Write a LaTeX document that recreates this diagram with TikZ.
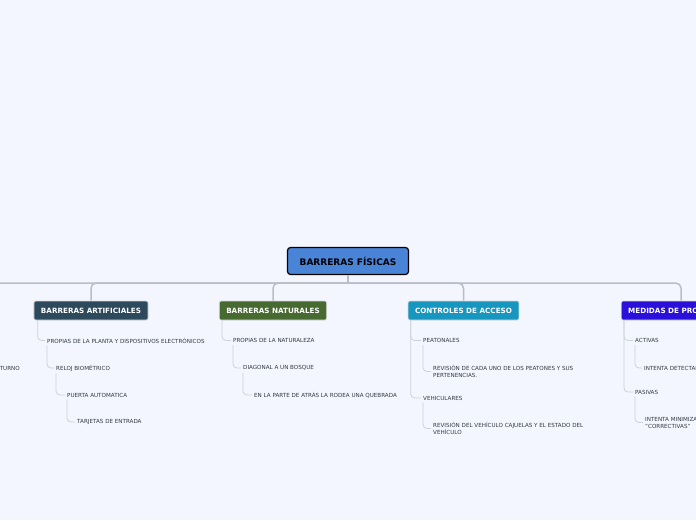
\documentclass[tikz,border=0pt]{standalone}
\usepackage{fontspec}
\setmainfont{DejaVu Sans}
\usetikzlibrary{positioning}

\definecolor{paperbg}{HTML}{F3F6FE}
\definecolor{rootblue}{HTML}{4A84D6}
\definecolor{artslate}{HTML}{2D495C}
\definecolor{natgreen}{HTML}{466A2F}
\definecolor{acceteal}{HTML}{1797BF}
\definecolor{medviolet}{HTML}{2A10D9}
\definecolor{trunkgray}{HTML}{B9BDC6}
\definecolor{twiggray}{HTML}{CDD1D8}
\definecolor{leaftext}{HTML}{333844}

\begin{document}
\begin{tikzpicture}[x=1pt, y=-1pt,
    rootbox/.style={draw=black, line width=1.2pt, fill=rootblue, rounded corners=3pt,
        minimum width=121pt, minimum height=27pt, font=\bfseries\fontsize{9}{11}\selectfont},
    topic/.style={draw=black!15, line width=0.6pt, rounded corners=2pt, text=white,
        minimum height=19pt, inner xsep=7pt, font=\bfseries\fontsize{7.2}{9}\selectfont},
    leaf/.style={anchor=west, inner sep=2pt, align=left, text=leaftext,
        font=\fontsize{5.6}{7}\selectfont},
    trunk/.style={draw=trunkgray, line width=1.5pt, rounded corners=5pt},
    twig/.style={draw=twiggray, line width=0.8pt, rounded corners=4pt}]
    \clip (0,0) rectangle (696,520);
    \fill[paperbg] (0,0) rectangle (696,520);

    % Central topic
    \node[rootbox] (root) at (348,261) {BARRERAS FÍSICAS};
    \draw[trunk] (root.south) -- ++(0,8) coordinate (hub);

    % Main branches
    \node[topic, fill=artslate] (art) at (91,310.5) {BARRERAS ARTIFICIALES};
    \node[topic, fill=natgreen] (nat) at (273,310.5) {BARRERAS NATURALES};
    \node[topic, fill=acceteal] (acc) at (463.5,310.5) {CONTROLES DE ACCESO};
    \node[topic, fill=medviolet] (med) at (681,310.5) {MEDIDAS DE PROTECCIÓN};
    \coordinate (farleft) at (-90,301);

    \draw[trunk] (hub) -| (farleft);
    \draw[trunk] (hub) -| (art.north);
    \draw[trunk] (hub) -| (nat.north);
    \draw[trunk] (hub) -| (acc.north);
    \draw[trunk] (hub) -| (med.north);

    % Left-hand remainder
    \node[leaf, anchor=east] (turno) at (22,368) {TURNO};

    % Barreras artificiales
    \node[leaf] (a1) at (45,340.5) {PROPIAS DE LA PLANTA Y DISPOSITIVOS ELECTRÓNICOS};
    \node[leaf] (a2) at (54,368) {RELOJ BIOMÉTRICO};
    \node[leaf] (a3) at (65,395) {PUERTA AUTOMATICA};
    \node[leaf] (a4) at (75,422) {TARJETAS DE ENTRADA};
    \draw[twig] ([xshift=4pt]art.south west) |- (a1.west);
    \draw[twig] ([xshift=2pt]a1.south west) |- (a2.west);
    \draw[twig] ([xshift=2pt]a2.south west) |- (a3.west);
    \draw[twig] ([xshift=2pt]a3.south west) |- (a4.west);

    % Barreras naturales
    \node[leaf] (n1) at (231,340.5) {PROPIAS DE LA NATURALEZA};
    \node[leaf] (n2) at (241,368) {DIAGONAL A UN BOSQUE};
    \node[leaf] (n3) at (252,395) {EN LA PARTE DE ATRÁS LA RODEA UNA QUEBRADA};
    \draw[twig] ([xshift=3pt]nat.south west) |- (n1.west);
    \draw[twig] ([xshift=2pt]n1.south west) |- (n2.west);
    \draw[twig] ([xshift=2pt]n2.south west) |- (n3.west);

    % Controles de acceso
    \node[leaf] (c1) at (421,340.5) {PEATONALES};
    \node[leaf] (c2) at (431,371.5) {REVISIÓN DE CADA UNO DE LOS PEATONES Y SUS\\PERTENENCIAS.};
    \node[leaf] (c3) at (421,398) {VEHICULARES};
    \node[leaf] (c4) at (431,428.5) {REVISIÓN DEL VEHÍCULO CAJUELAS Y EL ESTADO DEL\\VEHÍCULO};
    \draw[twig] ([xshift=3pt]acc.south west) |- (c1.west);
    \draw[twig] ([xshift=3pt]acc.south west) |- (c3.west);
    \draw[twig] ([xshift=2pt]c1.south west) |- (c2.west);
    \draw[twig] ([xshift=2pt]c3.south west) |- (c4.west);

    % Medidas de proteccion
    \node[leaf] (m1) at (633,340.5) {ACTIVAS};
    \node[leaf] (m2) at (642,368) {INTENTA DETECTAR};
    \node[leaf] (m3) at (633,392) {PASIVAS};
    \node[leaf] (m4) at (643,422.5) {INTENTA MINIMIZAR\\"CORRECTIVAS"};
    \draw[twig] ([xshift=3pt]med.south west) |- (m1.west);
    \draw[twig] ([xshift=3pt]med.south west) |- (m3.west);
    \draw[twig] ([xshift=2pt]m1.south west) |- (m2.west);
    \draw[twig] ([xshift=2pt]m3.south west) |- (m4.west);
\end{tikzpicture}
\end{document}
